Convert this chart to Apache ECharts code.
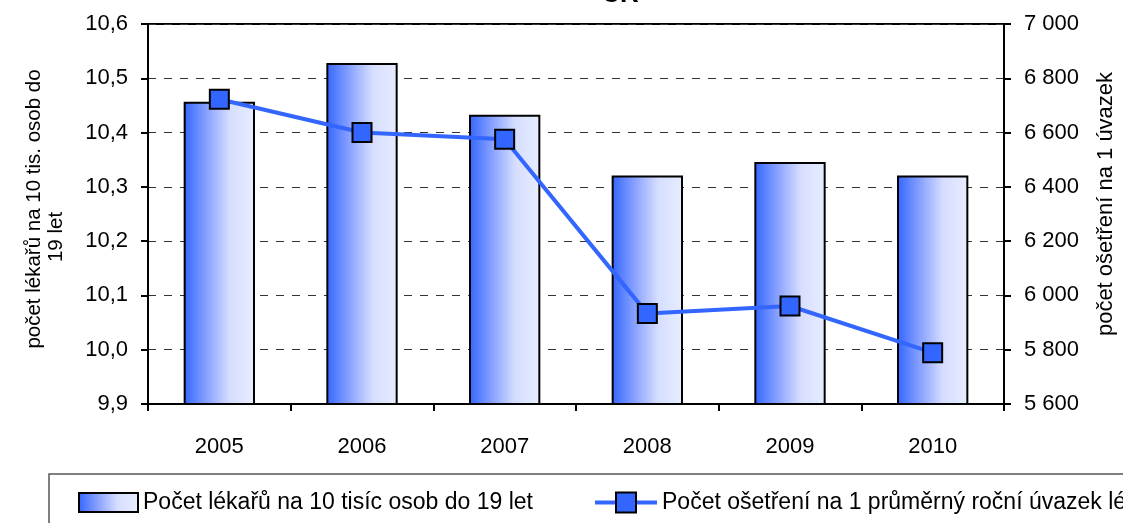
<!DOCTYPE html>
<html>
<head>
<meta charset="utf-8">
<script src="https://cdn.jsdelivr.net/npm/echarts@6/dist/echarts.min.js"></script>
<style>
  html, body { margin: 0; padding: 0; background: #fff; }
  #chart { width: 1123px; height: 523px; }
</style>
</head>
<body>
<div id="chart"></div>
<script>
// data
const years = ['2005', '2006', '2007', '2008', '2009', '2010'];
const doctors = [10.457, 10.528, 10.433, 10.321, 10.346, 10.321];
const treatments = [6723, 6600, 6575, 5933, 5961, 5789];

const barName = 'Počet lékařů na 10 tisíc osob do 19 let';
const lineName = 'Počet ošetření na 1 průměrný roční úvazek lékaře';

const font = '"Liberation Sans", Arial, sans-serif';
const blue = '#3366FF';

const barFill = new echarts.graphic.LinearGradient(0, 0, 1, 0, [
  { offset: 0, color: '#3366FF' },
  { offset: 0.35, color: '#8FA6FF' },
  { offset: 0.65, color: '#D6DEFF' },
  { offset: 1, color: '#E8EDFF' }
]);

const chart = echarts.init(document.getElementById('chart'));

chart.setOption({
  animation: false,
  textStyle: { fontFamily: font },
  graphic: [
    {
      type: 'text',
      style: { text: 'ČR', x: 620, y: 8, align: 'center', verticalAlign: 'bottom',
        font: 'bold 26px ' + font, fill: '#000' }
    },
    // axis titles (left one is wrapped as in the original)
    {
      type: 'text', x: 34, y: 209, rotation: Math.PI / 2,
      style: { text: 'počet lékařů na 10 tis. osob do', align: 'center', verticalAlign: 'middle',
        font: '20.5px ' + font, fill: '#000' }
    },
    {
      type: 'text', x: 56, y: 237, rotation: Math.PI / 2,
      style: { text: '19 let', align: 'center', verticalAlign: 'middle',
        font: '20.5px ' + font, fill: '#000' }
    },
    {
      type: 'text', x: 1106, y: 204, rotation: Math.PI / 2,
      style: { text: 'počet ošetření na 1 úvazek', align: 'center', verticalAlign: 'middle',
        font: '22px ' + font, fill: '#000' }
    },
    {
      type: 'rect',
      shape: { x: 49, y: 474, width: 1200, height: 100 },
      style: { fill: 'none', stroke: '#555', lineWidth: 1.5 }
    }
  ],
  grid: {
    left: 148, right: 119, top: 24, bottom: 119,
    show: true, borderColor: '#000', borderWidth: 2
  },
  legend: [
    {
      data: [{ name: barName, icon: 'rect' }],
      left: 78, top: 491, padding: 0,
      itemWidth: 59, itemHeight: 19,
      textStyle: { fontSize: 23, color: '#000', fontFamily: font }
    },
    {
      data: [lineName],
      left: 593, top: 491, padding: 0,
      itemWidth: 62, itemHeight: 25,
      lineStyle: { width: 4 },
      textStyle: { fontSize: 23, color: '#000', fontFamily: font }
    }
  ],
  xAxis: {
    type: 'category',
    data: years,
    boundaryGap: true,
    axisLine: { lineStyle: { color: '#000', width: 2 } },
    axisTick: { show: true, length: 7, alignWithLabel: false, lineStyle: { color: '#000', width: 2 } },
    axisLabel: { fontSize: 22, color: '#000', margin: 32 }
  },
  yAxis: [
    {
      type: 'value',
      min: 9.9, max: 10.6, interval: 0.1,
      axisLine: { show: true, lineStyle: { color: '#000', width: 2 } },
      axisTick: { show: true, length: 7, lineStyle: { color: '#000', width: 2 } },
      axisLabel: {
        fontSize: 22, color: '#000', margin: 20,
        formatter: v => v.toFixed(1).replace('.', ',')
      },
      splitLine: { show: true, lineStyle: { color: '#333', width: 1, type: [8, 8] } }
    },
    {
      type: 'value',
      min: 5600, max: 7000, interval: 200,
      axisLine: { show: true, lineStyle: { color: '#000', width: 2 } },
      axisTick: { show: true, length: 7, lineStyle: { color: '#000', width: 2 } },
      axisLabel: {
        fontSize: 22, color: '#000', margin: 20,
        formatter: v => String(v).replace(/\B(?=(\d{3})+(?!\d))/g, ' ')
      },
      splitLine: { show: false }
    }
  ],
  series: [
    {
      name: barName,
      type: 'bar',
      yAxisIndex: 0,
      data: doctors,
      barWidth: '50%',
      itemStyle: { color: barFill, borderColor: '#000', borderWidth: 2 }
    },
    {
      name: lineName,
      type: 'line',
      yAxisIndex: 1,
      data: treatments,
      symbol: 'rect',
      symbolSize: 19,
      lineStyle: { color: blue, width: 4 },
      itemStyle: { color: blue, borderColor: '#000', borderWidth: 2 },
      z: 5
    }
  ]
});
</script>
</body>
</html>
